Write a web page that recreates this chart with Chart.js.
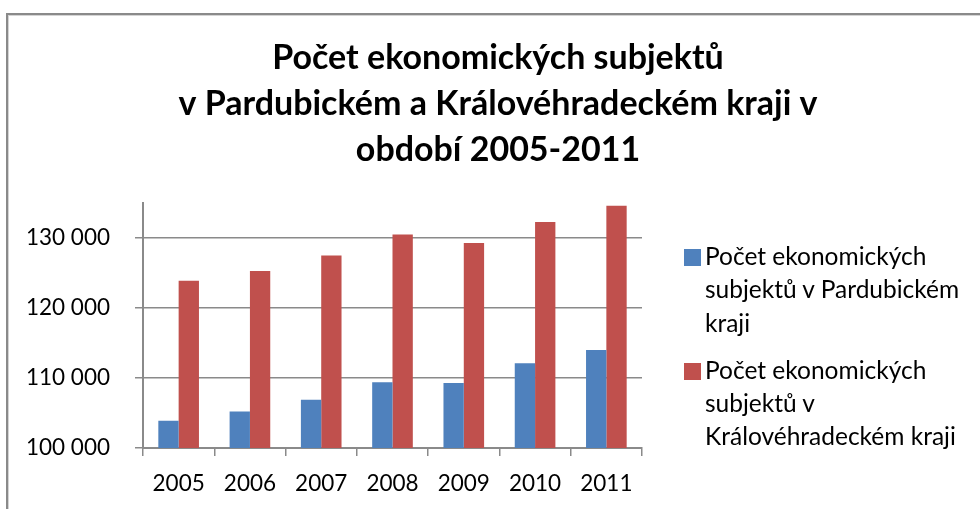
<!DOCTYPE html>
<html lang="cs">
<head>
<meta charset="utf-8">
<title>Počet ekonomických subjektů</title>
<script src="https://cdn.jsdelivr.net/npm/chart.js@4.4.0/dist/chart.umd.min.js"></script>
<style>
    html, body { margin: 0; padding: 0; background: #fff; overflow: hidden; }
    #ramecek {
        position: absolute; left: 6px; top: 13px; width: 1000px; height: 600px;
        border: 2px solid #8a8a8a; box-shadow: inset 1px 1px 0 #d4d4d4;
    }
    #graf-obal { position: absolute; left: 0; top: 0; width: 980px; height: 509px; }
    #legenda {
        position: absolute; left: 684px; top: 239px; width: 288px;
        font-family: Lato, sans-serif; font-size: 24.5px; line-height: 33.3px; color: #000;
    }
    .polozka { position: relative; padding-left: 21px; margin-bottom: 14px; }
    .ctverec { position: absolute; left: 0; top: 10px; width: 17px; height: 17px; }
</style>
</head>
<body>
<div id="ramecek"></div>
<div id="graf-obal"><canvas id="graf"></canvas></div>
<div id="legenda"></div>

<script>
// data
var roky = ['2005', '2006', '2007', '2008', '2009', '2010', '2011'];
var pardubicky = [103900, 105200, 106900, 109400, 109300, 112100, 114000];
var kralovehradecky = [123900, 125300, 127500, 130500, 129300, 132300, 134600];
var popisky = [
    'Počet ekonomických subjektů v Pardubickém kraji',
    'Počet ekonomických subjektů v Královéhradeckém kraji'
];
var barvy = ['#4F81BD', '#C0504D'];
var yTicks = [100000, 110000, 120000, 130000];
var titulek = ['Počet ekonomických subjektů', 'v Pardubickém a Královéhradeckém kraji v', 'období 2005-2011'];

var seda = '#8a8a8a';
var pismo = { family: 'Lato', size: 22.5 };

function formatCisla(v) {
    return String(v).replace(/\B(?=(\d{3})+(?!\d))/g, ' ');
}

var ctx = document.getElementById('graf').getContext('2d');

var graf = new Chart(ctx, {
    type: 'bar',
    data: {
        labels: roky,
        datasets: [{
            label: popisky[0],
            data: pardubicky,
            backgroundColor: barvy[0]
        }, {
            label: popisky[1],
            data: kralovehradecky,
            backgroundColor: barvy[1]
        }]
    },
    options: {
        responsive: true,
        maintainAspectRatio: false,
        animation: false,
        layout: { padding: { left: 16, top: 0, right: 0, bottom: 0 } },
        datasets: {
            bar: { categoryPercentage: 0.57, barPercentage: 1.0 }
        },
        plugins: {
            legend: { display: false },
            tooltip: { enabled: false },
            title: {
                display: true,
                text: titulek,
                color: '#000',
                font: { family: 'Lato', size: 34, weight: 'bold', lineHeight: '46px' },
                padding: { top: 35, bottom: 30 }
            }
        },
        scales: {
            x: {
                grid: { drawOnChartArea: false, tickLength: 8, color: seda, lineWidth: 1.5 },
                border: { color: seda, width: 2 },
                ticks: { color: '#000', font: pismo, padding: 14, maxRotation: 0 },
                afterFit: function(s) { s.height = 61; }
            },
            y: {
                min: 100000,
                max: 135000,
                afterBuildTicks: function(s) {
                    s.ticks = yTicks.map(function(v) { return { value: v }; });
                },
                grid: { tickLength: 8, color: seda, lineWidth: 1.5 },
                border: { color: seda, width: 2 },
                ticks: { color: '#000', font: pismo, padding: 25, callback: formatCisla },
                afterFit: function(s) { s.width = 127; }
            },
            // misto vpravo pro legendu
            rezerva: {
                type: 'linear',
                axis: 'y',
                position: 'right',
                ticks: { display: false },
                grid: { display: false },
                border: { display: false },
                afterFit: function(s) { s.width = 338; }
            }
        }
    }
});

// legenda v html
var legenda = document.getElementById('legenda');
graf.data.datasets.forEach(function(ds) {
    var p = document.createElement('div');
    p.className = 'polozka';
    var c = document.createElement('span');
    c.className = 'ctverec';
    c.style.background = ds.backgroundColor;
    p.appendChild(c);
    p.appendChild(document.createTextNode(ds.label));
    legenda.appendChild(p);
});
</script>
</body>
</html>
